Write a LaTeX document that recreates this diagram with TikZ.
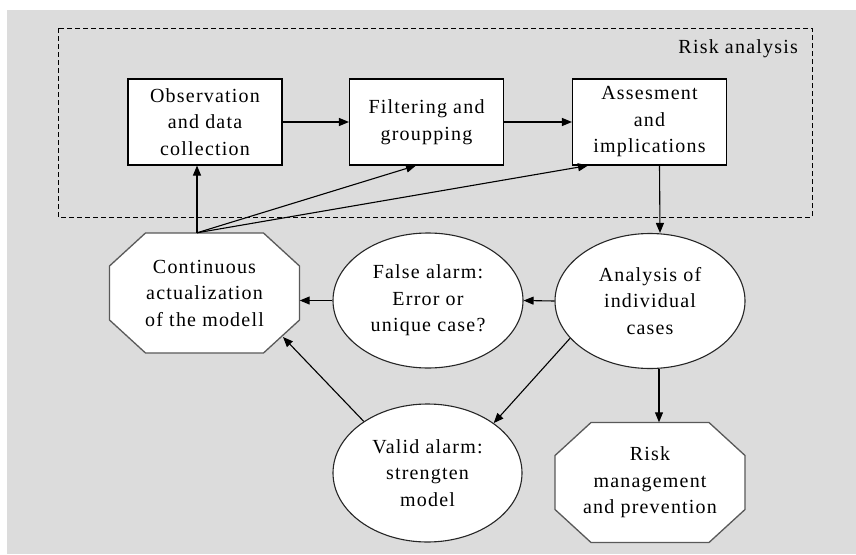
\documentclass[tikz,border=0pt]{standalone}
\usepackage{fontspec}
\setmainfont[LetterSpace=6]{Liberation Serif}
\usetikzlibrary{arrows.meta,calc,shapes.geometric}

\definecolor{panel}{HTML}{DCDCDC}

% chamfered octagon drawn round a centre point
\newcommand\octashape[1]{%
  \begin{scope}[shift={(#1)}]
    \draw[octline] (-59,-60) -- (59,-60) -- (95,-27) -- (95,27) -- (59,60)
      -- (-59,60) -- (-95,27) -- (-95,-27) -- cycle;
  \end{scope}}

\begin{document}
\begin{tikzpicture}[x=1pt,y=-1pt,
  every node/.style={font=\fontsize{20}{26.5}\selectfont, align=center, inner sep=0pt},
  lowered/.style={execute at begin node={\rule{0pt}{22pt}}},
  box/.style={lowered, draw=black, fill=white, line width=1.1pt,
    minimum width=154pt, minimum height=86pt},
  oval/.style={lowered, ellipse, draw=black!85, fill=white, line width=1.1pt,
    minimum width=190pt, minimum height=135pt},
  octo/.style={lowered, rectangle, minimum width=190pt, minimum height=120pt},
  octline/.style={draw=black!65, fill=white, line width=1.3pt},
  link/.style={-{Triangle[length=10pt,width=8pt]}, line width=1.1pt, black}]

\useasboundingbox (0,0) rectangle (856,554);
\fill[panel] (7,10) rectangle (856,554);

% risk analysis frame
\draw[line width=1pt, dash pattern=on 5pt off 3pt] (58,28) rectangle (812,217);
\node[anchor=base east] (ratitle) at (798,53) {Risk analysis};

% process boxes
\node[box] (obs)  at (205,122)   {Observation\\and data\\collection};
\node[box] (filt) at (426.5,122) {Filtering and\\groupping};
\node[box] (ass)  at (649.5,122) {Assesment\\and\\implications};

% octagons
\coordinate (contc) at (204.5,293);
\octashape{contc}
\node[octo] (cont) at (contc) {Continuous\\actualization\\of the modell};

\coordinate (riskc) at (650,482.5);
\octashape{riskc}
\node[octo] (risk) at (riskc) {Risk\\management\\and prevention};

% ellipses
\node[oval] (false) at (428,300.5) {False alarm:\\Error or\\unique case?};
\node[oval] (ana)   at (650,301)   {Analysis of\\individual\\cases};
\node[oval, minimum width=189pt, minimum height=138pt] (valid) at (427.5,473)
  {Valid alarm:\\strengten\\model};

% connectors
\draw[link] (obs.east) -- (filt.west);
\draw[link] (filt.east) -- (ass.west);
\coordinate (feed) at ([xshift=-7.5pt]cont.north);
\draw[link] (feed) -- ([xshift=-8pt]obs.south);
\draw[link] (feed) -- ([xshift=-10.5pt]filt.south);
\draw[link] (feed) -- ([xshift=-61.5pt]ass.south);
\draw[link] ([xshift=10pt]ass.south) -- ([xshift=10pt]ana.north);
\draw[link] (ana.west) -- (false.east);
\draw[link] (false.west) -- (cont.east |- false.west);
\draw[link] (ana.205) -- (valid.37);
\draw[link] ([xshift=9pt]ana.south) -- ([xshift=9pt]risk.north);
\draw[link] (valid.141) -- ([shift={(78.5pt,-44pt)}]cont.center);

\end{tikzpicture}
\end{document}
